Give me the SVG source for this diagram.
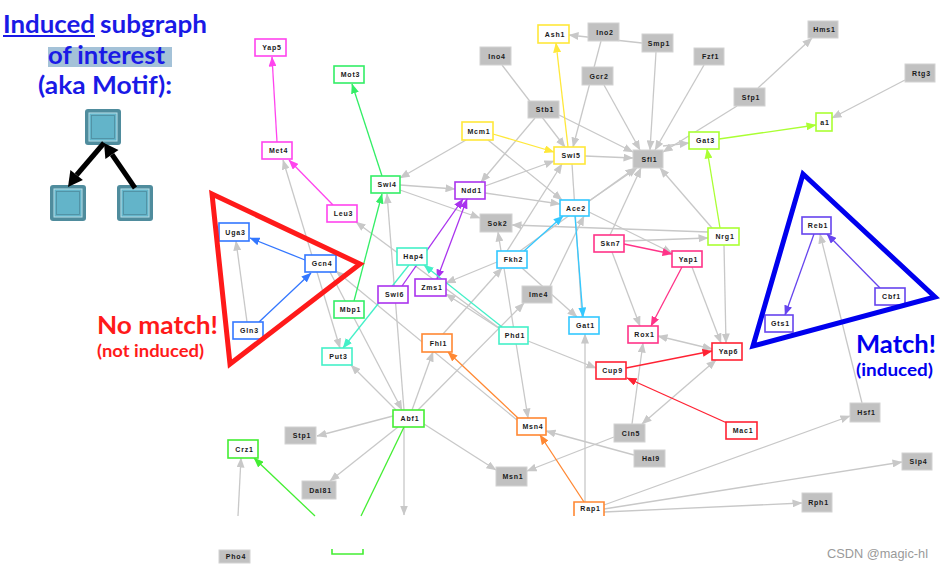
<svg xmlns="http://www.w3.org/2000/svg" width="943" height="571" viewBox="0 0 943 571">
<style>
.t{font-family:"Lato","Liberation Sans",sans-serif;font-weight:bold}
.l{font-family:"Liberation Sans",Arial,sans-serif;font-weight:bold;font-size:7px;letter-spacing:0.8px;text-anchor:middle;fill:#1a1a1a}
.n rect,.n path{fill:#fff;stroke-width:1.6}
.gr rect{fill:#c1c1c1;stroke:#d2d2d2;stroke-width:1}
.e line{stroke-width:1.3;fill:none}
.g{stroke:#c8c8c8}
.mg{stroke:#ff44ee}.gn{stroke:#33ee66}.bl{stroke:#3377ff}.yl{stroke:#ffe83a}.pp{stroke:#aa33ee}.aq{stroke:#44f0c8}.cy{stroke:#33c8ff}.pk{stroke:#ff3388}.rd{stroke:#ff2233}.yg{stroke:#aaff33}.vb{stroke:#6644ee}.or{stroke:#ff8833}.lg{stroke:#44ee33}
.tri{fill:none;stroke-width:5;stroke-linejoin:miter}
</style>
<defs>
<marker id="aG" markerUnits="userSpaceOnUse" markerWidth="10" markerHeight="8" refX="9.5" refY="4" viewBox="0 0 10 8" orient="auto-start-reverse"><path d="M0,0L10,4L0,8z" fill="#c8c8c8"/></marker>
<marker id="aMG" markerUnits="userSpaceOnUse" markerWidth="10" markerHeight="8" refX="9.5" refY="4" viewBox="0 0 10 8" orient="auto"><path d="M0,0L10,4L0,8z" fill="#ff44ee"/></marker>
<marker id="aGN" markerUnits="userSpaceOnUse" markerWidth="10" markerHeight="8" refX="9.5" refY="4" viewBox="0 0 10 8" orient="auto"><path d="M0,0L10,4L0,8z" fill="#33ee66"/></marker>
<marker id="aBL" markerUnits="userSpaceOnUse" markerWidth="10" markerHeight="8" refX="9.5" refY="4" viewBox="0 0 10 8" orient="auto"><path d="M0,0L10,4L0,8z" fill="#3377ff"/></marker>
<marker id="aYL" markerUnits="userSpaceOnUse" markerWidth="10" markerHeight="8" refX="9.5" refY="4" viewBox="0 0 10 8" orient="auto"><path d="M0,0L10,4L0,8z" fill="#ffe83a"/></marker>
<marker id="aPP" markerUnits="userSpaceOnUse" markerWidth="10" markerHeight="8" refX="9.5" refY="4" viewBox="0 0 10 8" orient="auto-start-reverse"><path d="M0,0L10,4L0,8z" fill="#aa33ee"/></marker>
<marker id="aAQ" markerUnits="userSpaceOnUse" markerWidth="10" markerHeight="8" refX="9.5" refY="4" viewBox="0 0 10 8" orient="auto"><path d="M0,0L10,4L0,8z" fill="#44f0c8"/></marker>
<marker id="aCY" markerUnits="userSpaceOnUse" markerWidth="10" markerHeight="8" refX="9.5" refY="4" viewBox="0 0 10 8" orient="auto"><path d="M0,0L10,4L0,8z" fill="#33c8ff"/></marker>
<marker id="aPK" markerUnits="userSpaceOnUse" markerWidth="10" markerHeight="8" refX="9.5" refY="4" viewBox="0 0 10 8" orient="auto"><path d="M0,0L10,4L0,8z" fill="#ff3388"/></marker>
<marker id="aRD" markerUnits="userSpaceOnUse" markerWidth="10" markerHeight="8" refX="9.5" refY="4" viewBox="0 0 10 8" orient="auto"><path d="M0,0L10,4L0,8z" fill="#ff2233"/></marker>
<marker id="aYG" markerUnits="userSpaceOnUse" markerWidth="10" markerHeight="8" refX="9.5" refY="4" viewBox="0 0 10 8" orient="auto"><path d="M0,0L10,4L0,8z" fill="#aaff33"/></marker>
<marker id="aVB" markerUnits="userSpaceOnUse" markerWidth="10" markerHeight="8" refX="9.5" refY="4" viewBox="0 0 10 8" orient="auto"><path d="M0,0L10,4L0,8z" fill="#6644ee"/></marker>
<marker id="aOR" markerUnits="userSpaceOnUse" markerWidth="10" markerHeight="8" refX="9.5" refY="4" viewBox="0 0 10 8" orient="auto"><path d="M0,0L10,4L0,8z" fill="#ff8833"/></marker>
<marker id="aLG" markerUnits="userSpaceOnUse" markerWidth="10" markerHeight="8" refX="9.5" refY="4" viewBox="0 0 10 8" orient="auto"><path d="M0,0L10,4L0,8z" fill="#44ee33"/></marker>
</defs>
<rect width="943" height="571" fill="#fff"/>

<!-- Left panel title -->
<g id="title">
<text class="t" x="3" y="33" font-size="25" fill="#1a1ae6" textLength="92" lengthAdjust="spacingAndGlyphs">Induced</text>
<line x1="3" y1="36" x2="95" y2="36" stroke="#1a1ae6" stroke-width="1.8"/>
<text class="t" x="100" y="33" font-size="25" fill="#1a1ae6" textLength="107" lengthAdjust="spacingAndGlyphs">subgraph</text>
<rect x="48" y="47" width="124" height="20" fill="#a4c2d8"/>
<text class="t" x="48" y="64" font-size="25" fill="#1a1ae6" textLength="117" lengthAdjust="spacingAndGlyphs">of interest</text>
<text class="t" x="38" y="94" font-size="25" fill="#1a1ae6" textLength="134" lengthAdjust="spacingAndGlyphs">(aka Motif):</text>
</g>
<g id="motif">
<g id="m-top"><rect x="85" y="109" width="36" height="36" rx="3" fill="#4f8c9d"/><rect x="89" y="113" width="28" height="28" fill="#63b4c9" stroke="#b9dfe9" stroke-width="1"/><rect x="91.5" y="115.5" width="23" height="23" fill="none" stroke="#4f8c9d" stroke-width="0.8"/></g>
<g id="m-left"><rect x="50" y="185" width="36" height="36" rx="3" fill="#4f8c9d"/><rect x="54" y="189" width="28" height="28" fill="#63b4c9" stroke="#b9dfe9" stroke-width="1"/><rect x="56.5" y="191.5" width="23" height="23" fill="none" stroke="#4f8c9d" stroke-width="0.8"/></g>
<g id="m-right"><rect x="117" y="185" width="36" height="36" rx="3" fill="#4f8c9d"/><rect x="121" y="189" width="28" height="28" fill="#63b4c9" stroke="#b9dfe9" stroke-width="1"/><rect x="123.5" y="191.5" width="23" height="23" fill="none" stroke="#4f8c9d" stroke-width="0.8"/></g>
<g id="m-arrows">
<line x1="104" y1="143" x2="76.6" y2="175" stroke="#000" stroke-width="5"/>
<polygon points="68,187 82.9,179.9 70.4,170.1" fill="#000"/>
<line x1="135" y1="188" x2="112" y2="154.5" stroke="#000" stroke-width="5"/>
<polygon points="104,143 118.5,150 105.4,159" fill="#000"/>
</g>
</g>

<!-- Connectors -->
<g id="connectors" class="e">
<line class="g" x1="247" y1="322" x2="236" y2="241" marker-end="url(#aG)"/>
<line class="g" x1="283" y1="160" x2="340" y2="348" marker-start="url(#aG)" marker-end="url(#aG)"/>
<line class="g" x1="466" y1="140" x2="400" y2="178" marker-end="url(#aG)"/>
<line class="g" x1="488" y1="140" x2="562" y2="200" marker-end="url(#aG)"/>
<line class="g" x1="535" y1="118" x2="481" y2="182" marker-end="url(#aG)"/>
<line class="g" x1="502" y1="65" x2="565" y2="147" marker-end="url(#aG)"/>
<line class="g" x1="559" y1="115" x2="633" y2="152" marker-end="url(#aG)"/>
<line class="g" x1="642" y1="43" x2="569" y2="35" marker-end="url(#aG)"/>
<line class="g" x1="601" y1="41" x2="573" y2="147" marker-end="url(#aG)"/>
<line class="g" x1="604" y1="85" x2="640" y2="150" marker-end="url(#aG)"/>
<line class="g" x1="585" y1="156" x2="633" y2="158" marker-end="url(#aG)"/>
<line class="g" x1="485" y1="186" x2="554" y2="161" marker-end="url(#aG)"/>
<line class="g" x1="485" y1="193" x2="560" y2="204" marker-end="url(#aG)"/>
<line class="g" x1="400" y1="185" x2="455" y2="189" marker-end="url(#aG)"/>
<line class="g" x1="400" y1="190" x2="480" y2="218" marker-end="url(#aG)"/>
<line class="g" x1="708" y1="232" x2="512" y2="225" marker-end="url(#aG)"/>
<line class="g" x1="624" y1="241" x2="708" y2="238" marker-end="url(#aG)"/>
<line class="g" x1="501" y1="251" x2="498" y2="232" marker-end="url(#aG)"/>
<line class="g" x1="504" y1="268" x2="528" y2="418" marker-end="url(#aG)"/>
<line class="g" x1="497" y1="262" x2="446" y2="283" marker-end="url(#aG)"/>
<line class="g" x1="500" y1="329" x2="446" y2="294" marker-end="url(#aG)"/>
<line class="g" x1="522" y1="268" x2="577" y2="317" marker-end="url(#aG)"/>
<line class="g" x1="443" y1="334" x2="502" y2="268" marker-end="url(#aG)"/>
<line class="g" x1="418" y1="410" x2="524" y2="303" marker-end="url(#aG)"/>
<line class="g" x1="396" y1="410" x2="351" y2="365" marker-end="url(#aG)"/>
<line class="g" x1="404" y1="410" x2="387" y2="194" marker-end="url(#aG)"/>
<line class="g" x1="412" y1="410" x2="433" y2="352" marker-end="url(#aG)"/>
<line class="g" x1="330" y1="272" x2="402" y2="410" marker-end="url(#aG)"/>
<line class="g" x1="393" y1="416" x2="317" y2="436" marker-end="url(#aG)"/>
<line class="g" x1="398" y1="427" x2="330" y2="481" marker-end="url(#aG)"/>
<line class="g" x1="424" y1="424" x2="496" y2="470" marker-end="url(#aG)"/>
<line class="g" x1="404" y1="427" x2="404" y2="515" marker-end="url(#aG)"/>
<line class="g" x1="517" y1="420" x2="336" y2="271" marker-end="url(#aG)"/>
<line class="g" x1="499" y1="328" x2="356" y2="222" marker-end="url(#aG)"/>
<line class="g" x1="589" y1="212" x2="672" y2="253" marker-end="url(#aG)"/>
<line class="g" x1="612" y1="252" x2="640" y2="326" marker-end="url(#aG)"/>
<line class="g" x1="692" y1="267" x2="721" y2="343" marker-end="url(#aG)"/>
<line class="g" x1="724" y1="245" x2="726" y2="343" marker-end="url(#aG)"/>
<line class="g" x1="658" y1="336" x2="712" y2="349" marker-start="url(#aG)" marker-end="url(#aG)"/>
<line class="g" x1="632" y1="424" x2="643" y2="343" marker-end="url(#aG)"/>
<line class="g" x1="716" y1="360" x2="642" y2="424" marker-start="url(#aG)" marker-end="url(#aG)"/>
<line class="g" x1="585" y1="502" x2="585" y2="334" marker-end="url(#aG)"/>
<line class="g" x1="528" y1="341" x2="596" y2="368" marker-end="url(#aG)"/>
<line class="g" x1="634" y1="455" x2="546" y2="431" marker-end="url(#aG)"/>
<line class="g" x1="614" y1="437" x2="527" y2="471" marker-end="url(#aG)"/>
<line class="g" x1="604" y1="505" x2="850" y2="416" marker-end="url(#aG)"/>
<line class="g" x1="604" y1="509" x2="902" y2="462" marker-end="url(#aG)"/>
<line class="g" x1="604" y1="512" x2="802" y2="503" marker-end="url(#aG)"/>
<line class="g" x1="862" y1="403" x2="820" y2="234" marker-end="url(#aG)"/>
<line class="g" x1="758" y1="88" x2="812" y2="38" marker-end="url(#aG)"/>
<line class="g" x1="905" y1="80" x2="832" y2="118" marker-end="url(#aG)"/>
<line class="g" x1="656" y1="52" x2="650" y2="150" marker-end="url(#aG)"/>
<line class="g" x1="704" y1="65" x2="655" y2="150" marker-end="url(#aG)"/>
<line class="g" x1="737" y1="106" x2="663" y2="152" marker-end="url(#aG)"/>
<line class="g" x1="663" y1="146" x2="689" y2="143" marker-end="url(#aG)"/>
<line class="g" x1="712" y1="228" x2="660" y2="168" marker-end="url(#aG)"/>
<line class="g" x1="589" y1="201" x2="637" y2="168" marker-end="url(#aG)"/>
<line class="g" x1="520" y1="251" x2="635" y2="168" marker-end="url(#aG)"/>
<line class="g" x1="610" y1="235" x2="641" y2="168" marker-end="url(#aG)"/>
<line class="g" x1="507" y1="251" x2="562" y2="164" marker-end="url(#aG)"/>
<line class="g" x1="550" y1="286" x2="584" y2="216" marker-end="url(#aG)"/>
<line class="g" x1="572" y1="164" x2="582" y2="317"/>
<line class="g" x1="238" y1="516" x2="241" y2="458" marker-end="url(#aG)"/>

<line class="mg" x1="277" y1="142" x2="272" y2="57" marker-end="url(#aMG)"/>
<line class="mg" x1="333" y1="205" x2="289" y2="160" marker-end="url(#aMG)"/>
<line class="gn" x1="382" y1="176" x2="352" y2="84" marker-end="url(#aGN)"/>
<line class="gn" x1="354" y1="301" x2="382" y2="194" marker-end="url(#aGN)"/>
<line class="bl" x1="305" y1="260" x2="250" y2="238" marker-end="url(#aBL)"/>
<line class="bl" x1="259" y1="322" x2="311" y2="273" marker-end="url(#aBL)"/>
<line class="yl" x1="493" y1="134" x2="554" y2="152" marker-end="url(#aYL)"/>
<line class="yl" x1="568" y1="147" x2="556" y2="43" marker-end="url(#aYL)"/>
<line class="pp" x1="402" y1="286" x2="463" y2="199" marker-end="url(#aPP)"/>
<line class="pp" x1="467" y1="199" x2="437" y2="279" marker-start="url(#aPP)" marker-end="url(#aPP)"/>
<line class="aq" x1="409" y1="265" x2="343" y2="348" marker-end="url(#aAQ)"/>
<line class="aq" x1="502" y1="327" x2="424" y2="265" marker-end="url(#aAQ)"/>
<line class="cy" x1="524" y1="251" x2="563" y2="216" marker-end="url(#aCY)"/>
<line class="cy" x1="575" y1="216" x2="583" y2="317" marker-end="url(#aCY)"/>
<line class="pk" x1="624" y1="244" x2="672" y2="254" marker-end="url(#aPK)"/>
<line class="pk" x1="682" y1="267" x2="651" y2="326" marker-end="url(#aPK)"/>
<line class="rd" x1="626" y1="368" x2="712" y2="351" marker-end="url(#aRD)"/>
<line class="rd" x1="727" y1="423" x2="627" y2="378" marker-end="url(#aRD)"/>
<line class="yg" x1="720" y1="228" x2="707" y2="149" marker-end="url(#aYG)"/>
<line class="yg" x1="719" y1="139" x2="816" y2="125" marker-end="url(#aYG)"/>
<line class="vb" x1="814" y1="234" x2="785" y2="315" marker-end="url(#aVB)"/>
<line class="vb" x1="880" y1="288" x2="827" y2="234" marker-end="url(#aVB)"/>
<line class="or" x1="584" y1="502" x2="540" y2="435" marker-end="url(#aOR)"/>
<line class="or" x1="518" y1="418" x2="448" y2="352" marker-end="url(#aOR)"/>
<line class="lg" x1="315" y1="516" x2="254" y2="458" marker-end="url(#aLG)"/>
<line class="lg" x1="404" y1="427" x2="361" y2="516"/>
</g>

<!-- Nodes -->
<g id="nodes">
<g id="n-Yap5" class="n"><rect class="mg" x="255" y="39" width="31" height="17"/><text class="l" x="272" y="50">Yap5</text></g>
<g id="n-Met4" class="n"><rect class="mg" x="262" y="142" width="30" height="17"/><text class="l" x="278.5" y="153">Met4</text></g>
<g id="n-Mot3" class="n"><rect class="gn" x="334" y="66" width="30" height="17"/><text class="l" x="350.5" y="77">Mot3</text></g>
<g id="n-Swi4" class="n"><rect class="gn" x="371" y="176" width="29" height="17"/><text class="l" x="387" y="187">Swi4</text></g>
<g id="n-Leu3" class="n"><rect class="mg" x="327" y="205" width="30" height="17"/><text class="l" x="343.5" y="216">Leu3</text></g>
<g id="n-Uga3" class="n"><rect class="bl" x="219" y="223" width="30" height="18"/><text class="l" x="235.5" y="234.5">Uga3</text></g>
<g id="n-Gcn4" class="n"><rect class="bl" x="305" y="255" width="31" height="17"/><text class="l" x="322" y="266">Gcn4</text></g>
<g id="n-Gln3" class="n"><rect class="bl" x="233" y="322" width="30" height="17"/><text class="l" x="249.5" y="333">Gln3</text></g>
<g id="n-Hap4" class="n"><rect class="aq" x="397" y="248" width="30" height="17"/><text class="l" x="413.5" y="259">Hap4</text></g>
<g id="n-Zms1" class="n"><rect class="pp" x="415" y="279" width="31" height="17"/><text class="l" x="432" y="290">Zms1</text></g>
<g id="n-Swi6" class="n"><rect class="pp" x="378" y="286" width="30" height="17"/><text class="l" x="394.5" y="297">Swi6</text></g>
<g id="n-Mbp1" class="n"><rect class="gn" x="334" y="301" width="30" height="17"/><text class="l" x="350.5" y="312">Mbp1</text></g>
<g id="n-Put3" class="n"><rect class="aq" x="322" y="348" width="30" height="17"/><text class="l" x="338.5" y="359">Put3</text></g>
<g id="n-Ndd1" class="n"><rect class="pp" x="455" y="182" width="30" height="17"/><text class="l" x="471.5" y="193">Ndd1</text></g>
<g id="n-Mcm1" class="n"><rect class="yl" x="462" y="122" width="31" height="18"/><text class="l" x="479" y="133.5">Mcm1</text></g>
<g id="n-Swi5" class="n"><rect class="yl" x="554" y="147" width="31" height="17"/><text class="l" x="571" y="158">Swi5</text></g>
<g id="n-Ash1" class="n"><rect class="yl" x="538" y="25" width="31" height="18"/><text class="l" x="555" y="36.5">Ash1</text></g>
<g id="n-Ino2" class="gr"><rect x="588" y="23" width="31" height="18"/><text class="l" x="605" y="34.5">Ino2</text></g>
<g id="n-Ino4" class="gr"><rect x="480" y="47" width="31" height="18"/><text class="l" x="497" y="58.5">Ino4</text></g>
<g id="n-Gcr2" class="gr"><rect x="582" y="67" width="31" height="18"/><text class="l" x="599" y="78.5">Gcr2</text></g>
<g id="n-Stb1" class="gr"><rect x="528" y="101" width="31" height="17"/><text class="l" x="545" y="112">Stb1</text></g>
<g id="n-Smp1" class="gr"><rect x="642" y="34" width="31" height="18"/><text class="l" x="659" y="45.5">Smp1</text></g>
<g id="n-Fzf1" class="gr"><rect x="694" y="48" width="30" height="17"/><text class="l" x="710.5" y="59">Fzf1</text></g>
<g id="n-Hms1" class="gr"><rect x="808" y="21" width="30" height="17"/><text class="l" x="824.5" y="32">Hms1</text></g>
<g id="n-Rtg3" class="gr"><rect x="905" y="64" width="30" height="18"/><text class="l" x="921.5" y="75.5">Rtg3</text></g>
<g id="n-Sfp1" class="gr"><rect x="734" y="88" width="31" height="18"/><text class="l" x="751" y="99.5">Sfp1</text></g>
<g id="n-a1" class="n"><rect class="yg" x="816" y="113" width="16" height="18"/><text class="l" x="825" y="124.5">a1</text></g>
<g id="n-Gat3" class="n"><rect class="yg" x="689" y="132" width="30" height="17"/><text class="l" x="705.5" y="143">Gat3</text></g>
<g id="n-Sfl1" class="gr"><rect x="633" y="150" width="30" height="18"/><text class="l" x="649.5" y="161.5">Sfl1</text></g>
<g id="n-Sok2" class="gr"><rect x="480" y="214" width="32" height="18"/><text class="l" x="497.5" y="225.5">Sok2</text></g>
<g id="n-Ace2" class="n"><rect class="cy" x="560" y="200" width="29" height="16"/><text class="l" x="576" y="210.5">Ace2</text></g>
<g id="n-Fkh2" class="n"><rect class="cy" x="497" y="251" width="30" height="17"/><text class="l" x="513.5" y="262">Fkh2</text></g>
<g id="n-Ime4" class="gr"><rect x="522" y="286" width="30" height="17"/><text class="l" x="538.5" y="297">Ime4</text></g>
<g id="n-Gat1" class="n"><rect class="cy" x="569" y="317" width="30" height="17"/><text class="l" x="585.5" y="328">Gat1</text></g>
<g id="n-Phd1" class="n"><rect class="aq" x="499" y="327" width="29" height="17"/><text class="l" x="515" y="338">Phd1</text></g>
<g id="n-Fhl1" class="n"><rect class="or" x="422" y="334" width="30" height="18"/><text class="l" x="438.5" y="345.5">Fhl1</text></g>
<g id="n-Skn7" class="n"><rect class="pk" x="594" y="235" width="30" height="17"/><text class="l" x="610.5" y="246">Skn7</text></g>
<g id="n-Nrg1" class="n"><rect class="yg" x="708" y="228" width="31" height="17"/><text class="l" x="725" y="239">Nrg1</text></g>
<g id="n-Yap1" class="n"><rect class="pk" x="672" y="251" width="30" height="16"/><text class="l" x="688.5" y="261.5">Yap1</text></g>
<g id="n-Rox1" class="n"><rect class="pk" x="628" y="326" width="30" height="17"/><text class="l" x="644.5" y="337">Rox1</text></g>
<g id="n-Yap6" class="n"><rect class="rd" x="712" y="343" width="30" height="17"/><text class="l" x="728.5" y="354">Yap6</text></g>
<g id="n-Cup9" class="n"><rect class="rd" x="596" y="362" width="30" height="17"/><text class="l" x="612.5" y="373">Cup9</text></g>
<g id="n-Reb1" class="n"><rect class="vb" x="802" y="217" width="29" height="17"/><text class="l" x="818" y="228">Reb1</text></g>
<g id="n-Cbf1" class="n"><rect class="vb" x="875" y="288" width="30" height="17"/><text class="l" x="891.5" y="299">Cbf1</text></g>
<g id="n-Gts1" class="n"><rect class="vb" x="765" y="315" width="28" height="17"/><text class="l" x="780.5" y="326">Gts1</text></g>
<g id="n-Hsf1" class="gr"><rect x="850" y="403" width="30" height="19"/><text class="l" x="866.5" y="415">Hsf1</text></g>
<g id="n-Mac1" class="n"><rect class="rd" x="726" y="422" width="31" height="17"/><text class="l" x="743" y="433">Mac1</text></g>
<g id="n-Cin5" class="gr"><rect x="614" y="424" width="31" height="18"/><text class="l" x="631" y="435.5">Cin5</text></g>
<g id="n-Hal9" class="gr"><rect x="634" y="450" width="31" height="17"/><text class="l" x="651" y="461">Hal9</text></g>
<g id="n-Sip4" class="gr"><rect x="902" y="453" width="30" height="17"/><text class="l" x="918.5" y="464">Sip4</text></g>
<g id="n-Rph1" class="gr"><rect x="802" y="493" width="30" height="19"/><text class="l" x="818.5" y="505">Rph1</text></g>
<g id="n-Abf1" class="n"><rect class="lg" x="393" y="410" width="31" height="17"/><text class="l" x="410" y="421">Abf1</text></g>
<g id="n-Stp1" class="gr"><rect x="285" y="427" width="31" height="17"/><text class="l" x="302" y="438">Stp1</text></g>
<g id="n-Dal81" class="gr"><rect x="302" y="481" width="34" height="18"/><text class="l" x="320.5" y="492.5">Dal81</text></g>
<g id="n-Msn4" class="n"><rect class="or" x="517" y="418" width="29" height="17"/><text class="l" x="533" y="429">Msn4</text></g>
<g id="n-Msn1" class="gr"><rect x="496" y="467" width="31" height="19"/><text class="l" x="513" y="479">Msn1</text></g>
<g id="n-Rap1" class="n"><path class="or" d="M574,516V502H604V516"/><text class="l" x="590.5" y="511">Rap1</text></g>
<g id="n-Crz1" class="n"><rect class="lg" x="228" y="440" width="30" height="18"/><text class="l" x="244.5" y="451.5">Crz1</text></g>
<g id="n-Pho4" class="gr"><rect x="219" y="550" width="31" height="13"/><text class="l" x="236" y="559">Pho4</text></g>
<g id="n-bottom" class="n"><path class="lg" d="M332,549V554H363V549" fill="none"/></g>
</g>

<!-- Triangles and labels -->
<g id="nomatch">
<polygon class="tri" points="212,194 360,264 230,364" stroke="#ff1a1a"/>
<text class="t" x="97" y="334" font-size="25" fill="#ff1a1a" textLength="121" lengthAdjust="spacingAndGlyphs">No match!</text>
<text class="t" x="97" y="357" font-size="17" fill="#ff1a1a" textLength="107" lengthAdjust="spacingAndGlyphs">(not induced)</text>
</g>
<g id="match">
<polygon class="tri" points="803,174 935,297 753,346" stroke="#0000ee"/>
<text class="t" x="856" y="353" font-size="25" fill="#0000ee" textLength="80" lengthAdjust="spacingAndGlyphs">Match!</text>
<text class="t" x="856" y="376" font-size="17" fill="#0000ee" textLength="77" lengthAdjust="spacingAndGlyphs">(induced)</text>
</g>
<text x="827" y="558" font-family="Liberation Sans, Arial, sans-serif" font-size="13" fill="#9a9a9a" textLength="101" lengthAdjust="spacingAndGlyphs">CSDN @magic-hl</text>
</svg>
